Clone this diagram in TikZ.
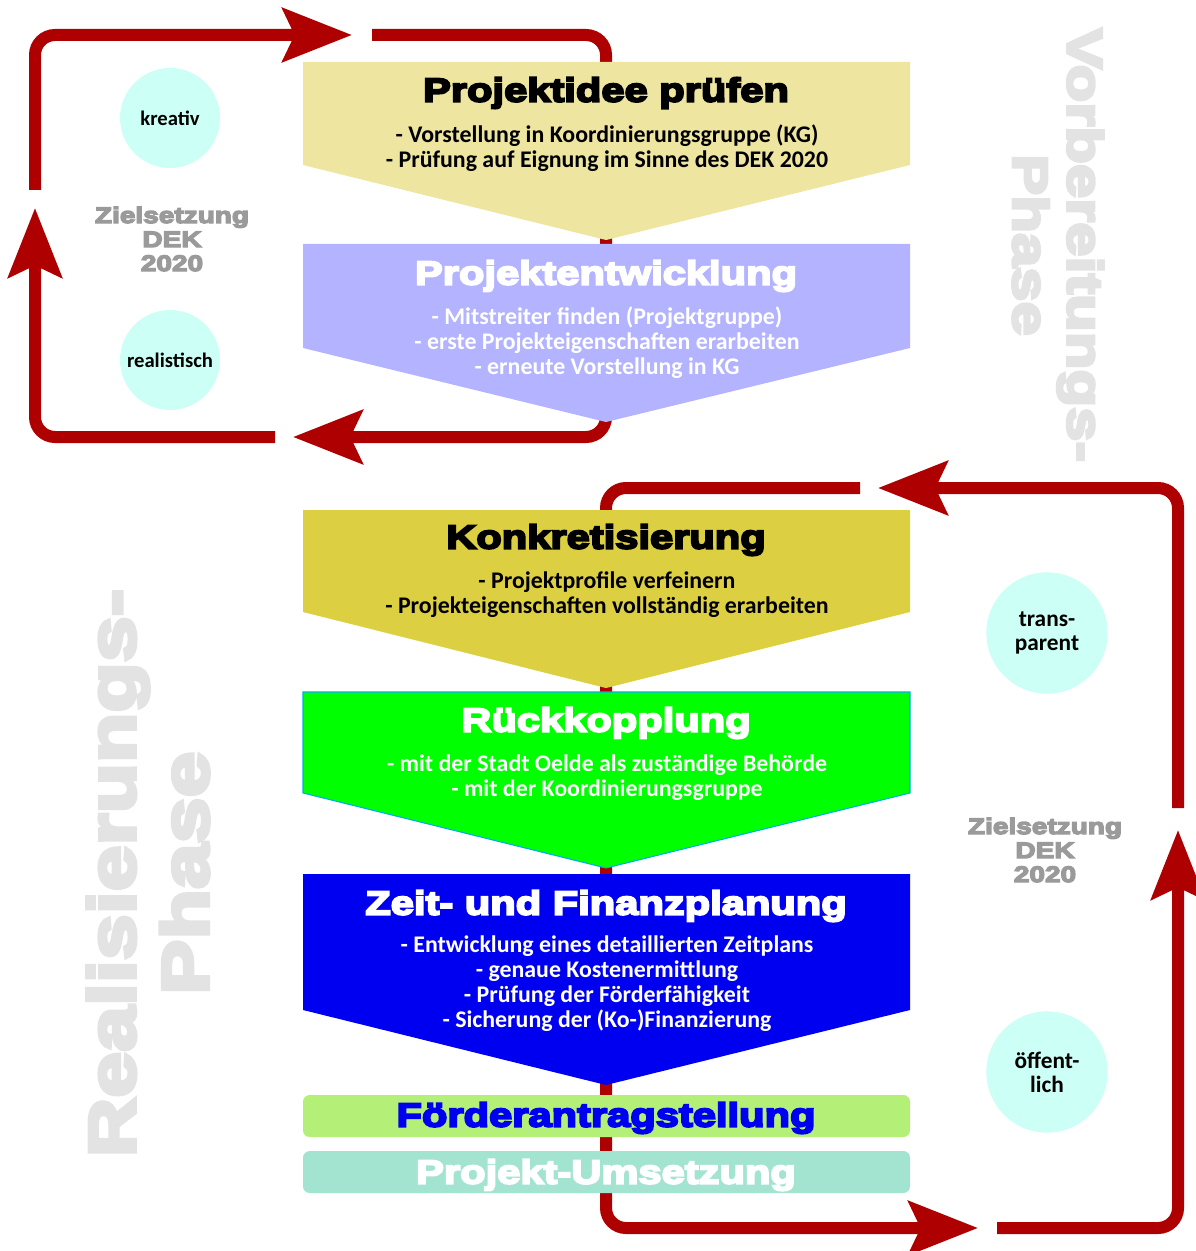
\documentclass[tikz,border=0pt]{standalone}
\usepackage{fontspec}
\setmainfont{Carlito}
\newfontfamily\heavy{Liberation Sans}[FakeStretch=1.25,FakeBold=6]
\usetikzlibrary{arrows.meta}
\definecolor{rot}{HTML}{AE0000}
\definecolor{gelb}{HTML}{EEE6A0}
\definecolor{lila}{HTML}{B3B3FF}
\definecolor{senf}{HTML}{DDCF42}
\definecolor{gruen}{HTML}{00FF00}
\definecolor{blau}{HTML}{0000F0}
\definecolor{hgruen}{HTML}{B4F078}
\definecolor{tuerkis}{HTML}{A3E4D0}
\definecolor{mint}{HTML}{CCFFF5}
\definecolor{zgrau}{HTML}{9A9A9A}
\definecolor{pgrau}{HTML}{E3E3E3}
\tikzset{
  kreislauf/.style={draw=rot,line width=9pt,rounded corners=15pt,
    -{Stealth[length=52pt,width=40pt,inset=9pt]}},
  titel/.style={font=\heavy\bfseries\fontsize{25}{28}\selectfont},
  punkte/.style={font=\bfseries\fontsize{17.9}{18.75}\selectfont,align=center},
  kreis/.style={circle,fill=mint,inner sep=0pt,align=center,
    font=\bfseries\fontsize{15.5}{18}\selectfont},
  kreisg/.style={kreis,minimum size=91pt,font=\bfseries\fontsize{17.5}{18}\selectfont},
  ziel/.style={font=\heavy\bfseries\fontsize{16.8}{18}\selectfont,text=zgrau,align=center},
  phase/.style={font=\heavy\bfseries,text=pgrau,align=center},
  balken/.style={rounded corners=5pt},
}
\begin{document}
\begin{tikzpicture}[x=0.75pt,y=-0.75pt]
  \useasboundingbox (0,0) rectangle (1195,1251);
  % Vorbereitung
  \draw[kreislauf] (35,190) -- (35,35) -- (352,35);
  \draw[kreislauf] (372,35) -- (606,35) -- (606,437) -- (293,437);
  \draw[kreislauf] (275,437) -- (35,437) -- (35,208);
  % Realisierung
  \draw[kreislauf] (860,488) -- (606,488) -- (606,1228) -- (978,1228);
  \draw[kreislauf] (997,1228) -- (1178,1228) -- (1178,830);
  \draw[kreislauf] (1178,808) -- (1178,488) -- (878,488);
  % Stufen
  \fill[gelb] (303,62) -- (910,62) -- (910,165) -- (606,240) -- (303,165) -- cycle;
  \fill[lila] (303,244) -- (910,244) -- (910,348) -- (606,422) -- (303,348) -- cycle;
  \fill[senf] (303,510) -- (910,510) -- (910,612) -- (606,688) -- (303,612) -- cycle;
  \filldraw[fill=gruen,draw=cyan,line width=0.8pt] (303,692) -- (910,692) -- (910,793) -- (606,868) -- (303,793) -- cycle;
  \fill[blau] (303,874) -- (910,874) -- (910,1010) -- (606,1085) -- (303,1010) -- cycle;
  \fill[hgruen,balken] (303,1095) rectangle (910,1137);
  \fill[tuerkis,balken] (303,1151) rectangle (910,1193);
  % Texte
  \node[titel] (idee) at (606,93) {Projektidee prüfen};
  \node[punkte] (ideep) at (607,148) {- Vorstellung in Koordinierungsgruppe (KG)\\- Prüfung auf Eignung im Sinne des DEK 2020};
  \node[titel,text=white] (entw) at (606,276) {Projektentwicklung};
  \node[punkte,text=white] (entwp) at (607,343) {- Mitstreiter finden (Projektgruppe)\\- erste Projekteigenschaften erarbeiten\\- erneute Vorstellung in KG};
  \node[titel] (konk) at (606,540) {Konkretisierung};
  \node[punkte] (konkp) at (607,595) {- Projektprofile verfeinern\\- Projekteigenschaften vollständig erarbeiten};
  \node[titel,text=white] (rueck) at (606,723) {Rückkopplung};
  \node[punkte,text=white] (rueckp) at (607,778) {- mit der Stadt Oelde als zuständige Behörde\\- mit der Koordinierungsgruppe};
  \node[titel,text=white] (zeit) at (606,906) {Zeit- und Finanzplanung};
  \node[punkte,text=white] (zeitp) at (607,984) {- Entwicklung eines detaillierten Zeitplans\\- genaue Kostenermittlung\\- Prüfung der Förderfähigkeit\\- Sicherung der (Ko-)Finanzierung};
  \node[titel,text=blau] (foerd) at (606,1118) {Förderantragstellung};
  \node[titel,text=white] (umset) at (606,1175) {Projekt-Umsetzung};
  % Kreise
  \node[kreis,minimum size=75pt] (krea) at (170,118) {kreativ};
  \node[kreis,minimum size=75pt] (real) at (170,360) {realistisch};
  \node[kreisg] (trans) at (1047,633) {trans-\\parent};
  \node[kreisg] (oeff) at (1047,1072) {öffent-\\lich};
  \node[ziel] (ziel1) at (172,239) {Zielsetzung\\DEK\\2020};
  \node[ziel] (ziel2) at (1045,850) {Zielsetzung\\DEK\\2020};
  % Phasen
  \node[phase,rotate=-90,font=\heavy\bfseries\fontsize{37}{41}\selectfont] (vorb) at (1058,245) {Vorbereitungs-\\Phase};
  \node[phase,rotate=90,font=\heavy\bfseries\fontsize{49.5}{55}\selectfont] (reali) at (148,873) {Realisierungs-\\Phase};
\end{tikzpicture}
\end{document}
